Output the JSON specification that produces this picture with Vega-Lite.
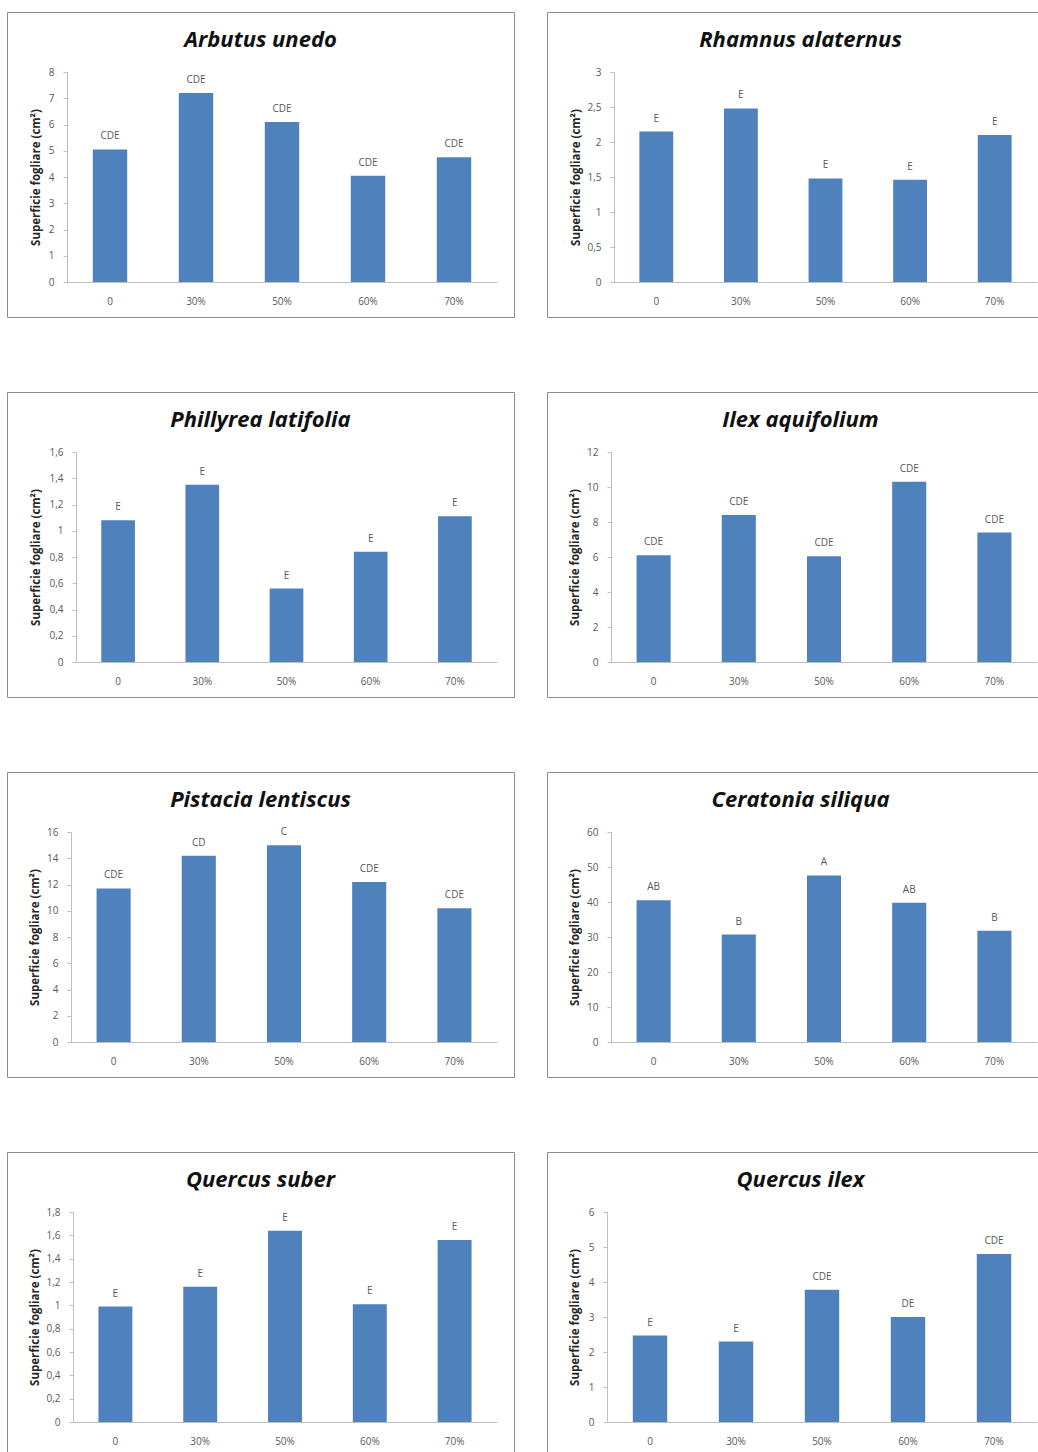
{
  "$schema": "https://vega.github.io/schema/vega-lite/v6.json",
  "padding": {"left": 6, "top": 11, "right": 0, "bottom": 0},
  "background": "white",
  "data": {"values": [
    {"species": "Arbutus unedo", "treatment": "0", "value": 5.05, "label": "CDE"},
    {"species": "Arbutus unedo", "treatment": "30%", "value": 7.2, "label": "CDE"},
    {"species": "Arbutus unedo", "treatment": "50%", "value": 6.1, "label": "CDE"},
    {"species": "Arbutus unedo", "treatment": "60%", "value": 4.05, "label": "CDE"},
    {"species": "Arbutus unedo", "treatment": "70%", "value": 4.75, "label": "CDE"},
    {"species": "Rhamnus alaternus", "treatment": "0", "value": 2.15, "label": "E"},
    {"species": "Rhamnus alaternus", "treatment": "30%", "value": 2.48, "label": "E"},
    {"species": "Rhamnus alaternus", "treatment": "50%", "value": 1.48, "label": "E"},
    {"species": "Rhamnus alaternus", "treatment": "60%", "value": 1.46, "label": "E"},
    {"species": "Rhamnus alaternus", "treatment": "70%", "value": 2.1, "label": "E"},
    {"species": "Phillyrea latifolia", "treatment": "0", "value": 1.08, "label": "E"},
    {"species": "Phillyrea latifolia", "treatment": "30%", "value": 1.35, "label": "E"},
    {"species": "Phillyrea latifolia", "treatment": "50%", "value": 0.56, "label": "E"},
    {"species": "Phillyrea latifolia", "treatment": "60%", "value": 0.84, "label": "E"},
    {"species": "Phillyrea latifolia", "treatment": "70%", "value": 1.11, "label": "E"},
    {"species": "Ilex aquifolium", "treatment": "0", "value": 6.1, "label": "CDE"},
    {"species": "Ilex aquifolium", "treatment": "30%", "value": 8.4, "label": "CDE"},
    {"species": "Ilex aquifolium", "treatment": "50%", "value": 6.05, "label": "CDE"},
    {"species": "Ilex aquifolium", "treatment": "60%", "value": 10.3, "label": "CDE"},
    {"species": "Ilex aquifolium", "treatment": "70%", "value": 7.4, "label": "CDE"},
    {"species": "Pistacia lentiscus", "treatment": "0", "value": 11.7, "label": "CDE"},
    {"species": "Pistacia lentiscus", "treatment": "30%", "value": 14.2, "label": "CD"},
    {"species": "Pistacia lentiscus", "treatment": "50%", "value": 15.0, "label": "C"},
    {"species": "Pistacia lentiscus", "treatment": "60%", "value": 12.2, "label": "CDE"},
    {"species": "Pistacia lentiscus", "treatment": "70%", "value": 10.2, "label": "CDE"},
    {"species": "Ceratonia siliqua", "treatment": "0", "value": 40.5, "label": "AB"},
    {"species": "Ceratonia siliqua", "treatment": "30%", "value": 30.7, "label": "B"},
    {"species": "Ceratonia siliqua", "treatment": "50%", "value": 47.6, "label": "A"},
    {"species": "Ceratonia siliqua", "treatment": "60%", "value": 39.8, "label": "AB"},
    {"species": "Ceratonia siliqua", "treatment": "70%", "value": 31.8, "label": "B"},
    {"species": "Quercus suber", "treatment": "0", "value": 0.99, "label": "E"},
    {"species": "Quercus suber", "treatment": "30%", "value": 1.16, "label": "E"},
    {"species": "Quercus suber", "treatment": "50%", "value": 1.64, "label": "E"},
    {"species": "Quercus suber", "treatment": "60%", "value": 1.01, "label": "E"},
    {"species": "Quercus suber", "treatment": "70%", "value": 1.56, "label": "E"},
    {"species": "Quercus ilex", "treatment": "0", "value": 2.47, "label": "E"},
    {"species": "Quercus ilex", "treatment": "30%", "value": 2.3, "label": "E"},
    {"species": "Quercus ilex", "treatment": "50%", "value": 3.78, "label": "CDE"},
    {"species": "Quercus ilex", "treatment": "60%", "value": 3.0, "label": "DE"},
    {"species": "Quercus ilex", "treatment": "70%", "value": 4.8, "label": "CDE"}
  ]},
  "spacing": 73,
  "vconcat": [
    {"spacing": 31, "hconcat": [
      {"width": 507, "height": 305, "title": "Arbutus unedo",
       "transform": [{"filter": "datum.species === 'Arbutus unedo'"}],
       "encoding": {
         "x": {"field": "treatment", "type": "nominal", "sort": ["0", "30%", "50%", "60%", "70%"], "scale": {"range": [60, 490], "paddingInner": 0.6, "paddingOuter": 0.3}, "axis": {"title": null, "offset": -35}},
         "y": {"field": "value", "type": "quantitative", "scale": {"domain": [0, 8], "range": [270, 60], "nice": false}, "axis": {"offset": -60, "values": [0, 1, 2, 3, 4, 5, 6, 7, 8], "title": "Superficie fogliare (cm²)", "titleX": -31, "titleY": 165}}
       },
       "layer": [
         {"mark": {"type": "bar", "color": "#4F81BD"}},
         {"mark": {"type": "text", "dy": -10, "baseline": "alphabetic", "fontSize": 10, "color": "#595959", "font": "Open Sans"}, "encoding": {"text": {"field": "label"}}}
       ]},
      {"width": 507, "height": 305, "title": "Rhamnus alaternus",
       "transform": [{"filter": "datum.species === 'Rhamnus alaternus'"}],
       "encoding": {
         "x": {"field": "treatment", "type": "nominal", "sort": ["0", "30%", "50%", "60%", "70%"], "scale": {"range": [67, 490], "paddingInner": 0.6, "paddingOuter": 0.3}, "axis": {"title": null, "offset": -35}},
         "y": {"field": "value", "type": "quantitative", "scale": {"domain": [0, 3], "range": [270, 60], "nice": false}, "axis": {"offset": -67, "values": [0, 0.5, 1, 1.5, 2, 2.5, 3], "title": "Superficie fogliare (cm²)", "titleX": -38, "titleY": 165}}
       },
       "layer": [
         {"mark": {"type": "bar", "color": "#4F81BD"}},
         {"mark": {"type": "text", "dy": -10, "baseline": "alphabetic", "fontSize": 10, "color": "#595959", "font": "Open Sans"}, "encoding": {"text": {"field": "label"}}}
       ]}
    ]},
    {"spacing": 31, "hconcat": [
      {"width": 507, "height": 305, "title": "Phillyrea latifolia",
       "transform": [{"filter": "datum.species === 'Phillyrea latifolia'"}],
       "encoding": {
         "x": {"field": "treatment", "type": "nominal", "sort": ["0", "30%", "50%", "60%", "70%"], "scale": {"range": [69, 490], "paddingInner": 0.6, "paddingOuter": 0.3}, "axis": {"title": null, "offset": -35}},
         "y": {"field": "value", "type": "quantitative", "scale": {"domain": [0, 1.6], "range": [270, 60], "nice": false}, "axis": {"offset": -69, "values": [0, 0.2, 0.4, 0.6, 0.8, 1, 1.2, 1.4, 1.6], "title": "Superficie fogliare (cm²)", "titleX": -40, "titleY": 165}}
       },
       "layer": [
         {"mark": {"type": "bar", "color": "#4F81BD"}},
         {"mark": {"type": "text", "dy": -10, "baseline": "alphabetic", "fontSize": 10, "color": "#595959", "font": "Open Sans"}, "encoding": {"text": {"field": "label"}}}
       ]},
      {"width": 507, "height": 305, "title": "Ilex aquifolium",
       "transform": [{"filter": "datum.species === 'Ilex aquifolium'"}],
       "encoding": {
         "x": {"field": "treatment", "type": "nominal", "sort": ["0", "30%", "50%", "60%", "70%"], "scale": {"range": [64, 490], "paddingInner": 0.6, "paddingOuter": 0.3}, "axis": {"title": null, "offset": -35}},
         "y": {"field": "value", "type": "quantitative", "scale": {"domain": [0, 12], "range": [270, 60], "nice": false}, "axis": {"offset": -64, "values": [0, 2, 4, 6, 8, 10, 12], "title": "Superficie fogliare (cm²)", "titleX": -36, "titleY": 165}}
       },
       "layer": [
         {"mark": {"type": "bar", "color": "#4F81BD"}},
         {"mark": {"type": "text", "dy": -10, "baseline": "alphabetic", "fontSize": 10, "color": "#595959", "font": "Open Sans"}, "encoding": {"text": {"field": "label"}}}
       ]}
    ]},
    {"spacing": 31, "hconcat": [
      {"width": 507, "height": 305, "title": "Pistacia lentiscus",
       "transform": [{"filter": "datum.species === 'Pistacia lentiscus'"}],
       "encoding": {
         "x": {"field": "treatment", "type": "nominal", "sort": ["0", "30%", "50%", "60%", "70%"], "scale": {"range": [64, 490], "paddingInner": 0.6, "paddingOuter": 0.3}, "axis": {"title": null, "offset": -35}},
         "y": {"field": "value", "type": "quantitative", "scale": {"domain": [0, 16], "range": [270, 60], "nice": false}, "axis": {"offset": -64, "values": [0, 2, 4, 6, 8, 10, 12, 14, 16], "title": "Superficie fogliare (cm²)", "titleX": -36, "titleY": 165}}
       },
       "layer": [
         {"mark": {"type": "bar", "color": "#4F81BD"}},
         {"mark": {"type": "text", "dy": -10, "baseline": "alphabetic", "fontSize": 10, "color": "#595959", "font": "Open Sans"}, "encoding": {"text": {"field": "label"}}}
       ]},
      {"width": 507, "height": 305, "title": "Ceratonia siliqua",
       "transform": [{"filter": "datum.species === 'Ceratonia siliqua'"}],
       "encoding": {
         "x": {"field": "treatment", "type": "nominal", "sort": ["0", "30%", "50%", "60%", "70%"], "scale": {"range": [64, 490], "paddingInner": 0.6, "paddingOuter": 0.3}, "axis": {"title": null, "offset": -35}},
         "y": {"field": "value", "type": "quantitative", "scale": {"domain": [0, 60], "range": [270, 60], "nice": false}, "axis": {"offset": -64, "values": [0, 10, 20, 30, 40, 50, 60], "title": "Superficie fogliare (cm²)", "titleX": -36, "titleY": 165}}
       },
       "layer": [
         {"mark": {"type": "bar", "color": "#4F81BD"}},
         {"mark": {"type": "text", "dy": -10, "baseline": "alphabetic", "fontSize": 10, "color": "#595959", "font": "Open Sans"}, "encoding": {"text": {"field": "label"}}}
       ]}
    ]},
    {"spacing": 31, "hconcat": [
      {"width": 507, "height": 305, "title": "Quercus suber",
       "transform": [{"filter": "datum.species === 'Quercus suber'"}],
       "encoding": {
         "x": {"field": "treatment", "type": "nominal", "sort": ["0", "30%", "50%", "60%", "70%"], "scale": {"range": [66, 490], "paddingInner": 0.6, "paddingOuter": 0.3}, "axis": {"title": null, "offset": -35}},
         "y": {"field": "value", "type": "quantitative", "scale": {"domain": [0, 1.8], "range": [270, 60], "nice": false}, "axis": {"offset": -66, "values": [0, 0.2, 0.4, 0.6, 0.8, 1, 1.2, 1.4, 1.6, 1.8], "title": "Superficie fogliare (cm²)", "titleX": -38, "titleY": 165}}
       },
       "layer": [
         {"mark": {"type": "bar", "color": "#4F81BD"}},
         {"mark": {"type": "text", "dy": -10, "baseline": "alphabetic", "fontSize": 10, "color": "#595959", "font": "Open Sans"}, "encoding": {"text": {"field": "label"}}}
       ]},
      {"width": 507, "height": 305, "title": "Quercus ilex",
       "transform": [{"filter": "datum.species === 'Quercus ilex'"}],
       "encoding": {
         "x": {"field": "treatment", "type": "nominal", "sort": ["0", "30%", "50%", "60%", "70%"], "scale": {"range": [60, 490], "paddingInner": 0.6, "paddingOuter": 0.3}, "axis": {"title": null, "offset": -35}},
         "y": {"field": "value", "type": "quantitative", "scale": {"domain": [0, 6], "range": [270, 60], "nice": false}, "axis": {"offset": -60, "values": [0, 1, 2, 3, 4, 5, 6], "title": "Superficie fogliare (cm²)", "titleX": -32, "titleY": 165}}
       },
       "layer": [
         {"mark": {"type": "bar", "color": "#4F81BD"}},
         {"mark": {"type": "text", "dy": -10, "baseline": "alphabetic", "fontSize": 10, "color": "#595959", "font": "Open Sans"}, "encoding": {"text": {"field": "label"}}}
       ]}
    ]}
  ],
  "config": {
    "locale": {"number": {"decimal": ",", "thousands": ".", "grouping": [3], "currency": ["€", ""]}},
    "font": "Open Sans",
    "view": {"stroke": "#8c8c8c", "strokeWidth": 1},
    "title": {"font": "Open Sans", "fontSize": 22, "fontStyle": "italic", "fontWeight": "bold", "color": "#111111", "anchor": "middle", "frame": "group", "offset": -40, "baseline": "alphabetic"},
    "axis": {"grid": false, "labelFont": "Open Sans", "labelFontSize": 10, "labelColor": "#595959", "domainColor": "#bfbfbf", "tickColor": "#bfbfbf", "titleFont": "Open Sans", "titleFontSize": 11.5, "titleFontWeight": "bold", "titleColor": "#262626"},
    "axisX": {"ticks": false, "labelAngle": 0, "labelPadding": 14, "labelBaseline": "top"},
    "axisY": {"format": "~f", "tickSize": 4, "labelPadding": 9, "titleAngle": 270, "titleBaseline": "middle", "titleAlign": "center"}
  }
}
